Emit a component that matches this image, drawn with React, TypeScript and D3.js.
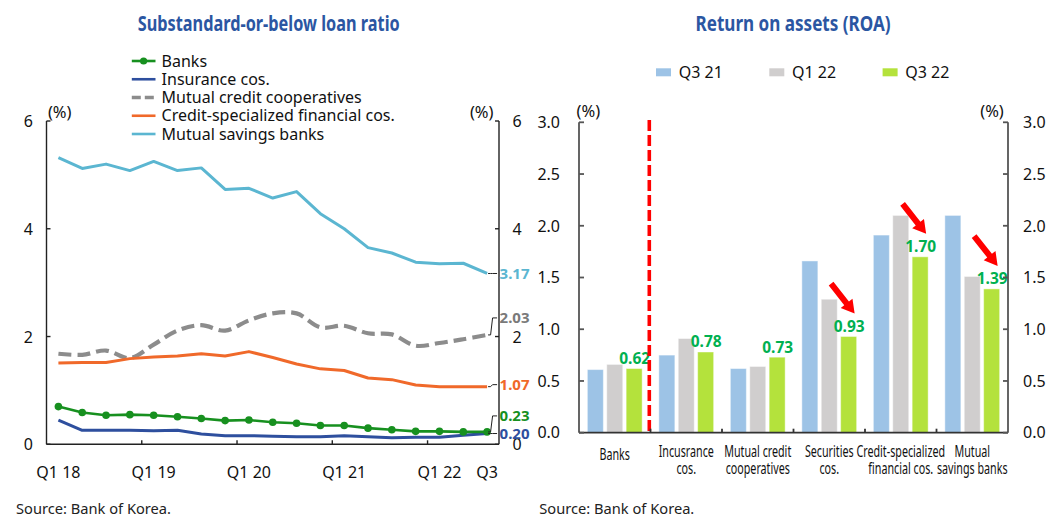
import React from "react";
import * as d3 from "d3";

// ---------- Substandard-or-below loan ratio (quarterly, %) ----------
const quarters = [
  "Q1 18", "Q2 18", "Q3 18", "Q4 18",
  "Q1 19", "Q2 19", "Q3 19", "Q4 19",
  "Q1 20", "Q2 20", "Q3 20", "Q4 20",
  "Q1 21", "Q2 21", "Q3 21", "Q4 21",
  "Q1 22", "Q2 22", "Q3 22",
];
const yearStartQuarters = ["Q1 19", "Q1 20", "Q1 21", "Q1 22"];
const xTickQuarters = ["Q1 18", "Q1 19", "Q1 20", "Q1 21", "Q1 22", "Q3 22"];
const xTickTexts = ["Q1 18", "Q1 19", "Q1 20", "Q1 21", "Q1 22", "Q3"];
const ratioTicks = [0, 2, 4, 6];

const banks = [0.70, 0.59, 0.54, 0.55, 0.54, 0.51, 0.48, 0.44, 0.45, 0.41, 0.39, 0.35, 0.35, 0.30, 0.27, 0.24, 0.24, 0.23, 0.23];
const insuranceCos = [0.45, 0.26, 0.26, 0.26, 0.25, 0.26, 0.19, 0.16, 0.16, 0.15, 0.14, 0.14, 0.16, 0.14, 0.12, 0.13, 0.13, 0.17, 0.20];
const mutualCredit = [1.68, 1.66, 1.74, 1.60, 1.85, 2.11, 2.21, 2.11, 2.30, 2.43, 2.43, 2.17, 2.20, 2.06, 2.04, 1.83, 1.88, 1.95, 2.03];
const creditSpecialized = [1.51, 1.52, 1.52, 1.59, 1.62, 1.64, 1.68, 1.64, 1.72, 1.61, 1.49, 1.40, 1.37, 1.23, 1.20, 1.10, 1.07, 1.07, 1.07];
const mutualSavings = [5.32, 5.12, 5.20, 5.08, 5.25, 5.08, 5.13, 4.73, 4.75, 4.57, 4.69, 4.28, 4.00, 3.65, 3.55, 3.38, 3.35, 3.36, 3.17];

// ---------- Return on assets (%) ----------
const roaCategories = ["Banks", "Insurance", "Mutual credit", "Securities", "Credit-specialized", "Mutual savings"];
const roaCategoryLines = [
  ["Banks"],
  ["Incusrance", "cos."],
  ["Mutual credit", "cooperatives"],
  ["Securities", "cos."],
  ["Credit-specialized", "financial cos."],
  ["Mutual", "savings banks"],
];
const roaPeriods = ["Q3 21", "Q1 22", "Q3 22"];
const roaQ3_21 = [0.61, 0.75, 0.62, 1.66, 1.91, 2.10];
const roaQ1_22 = [0.66, 0.91, 0.64, 1.29, 2.10, 1.51];
const roaQ3_22 = [0.62, 0.78, 0.73, 0.93, 1.70, 1.39];
const roaTicks = [0, 0.5, 1, 1.5, 2, 2.5, 3];
const decliningCategories = ["Securities", "Credit-specialized", "Mutual savings"];

const FONT = "'Noto Sans', sans-serif";
const TITLE_BLUE = "#2b56a2";

// Width of a string in the given CSS font, used to squeeze narrow category labels.
let measureCtx: CanvasRenderingContext2D | null = null;
function textWidth(s: string, font: string) {
  if (!measureCtx && typeof document !== "undefined") {
    measureCtx = document.createElement("canvas").getContext("2d");
  }
  if (!measureCtx) return s.length * 8;
  measureCtx.font = font;
  return measureCtx.measureText(s).width;
}

type Series = {
  name: string;
  values: number[];
  color: string;
  labelColor: string;
  width: number;
  dash?: string;
  dots?: boolean;
  smooth?: boolean;
  labelShift: number;
};

const lineSeries: Series[] = [
  { name: "Banks", values: banks, color: "#17901f", labelColor: "#17901f", width: 2.6, dots: true, labelShift: -16 },
  { name: "Insurance cos.", values: insuranceCos, color: "#2e4f9e", labelColor: "#2e4f9e", width: 3, labelShift: 0 },
  { name: "Mutual credit cooperatives", values: mutualCredit, color: "#8c8c8c", labelColor: "#7a7a7a", width: 4.2, dash: "13 6", smooth: true, labelShift: -17 },
  { name: "Credit-specialized financial cos.", values: creditSpecialized, color: "#f0692a", labelColor: "#f0692a", width: 3, labelShift: -2 },
  { name: "Mutual savings banks", values: mutualSavings, color: "#5bb6d1", labelColor: "#5bb6d1", width: 3, labelShift: 0 },
];
const drawOrder = ["Mutual savings banks", "Mutual credit cooperatives", "Credit-specialized financial cos.", "Insurance cos.", "Banks"];

const barColors = ["#9dc3e6", "#d0cece", "#b4e23c"];
const roaSeries = [roaQ3_21, roaQ1_22, roaQ3_22];

function LoanRatioChart() {
  const x = d3.scaleBand<string>().domain(quarters).range([46.5, 499]);
  const y = d3.scaleLinear().domain([0, 6]).range([444.3, 121]);
  const bw = x.bandwidth();
  const cx = (q: string) => (x(q) as number) + bw / 2;
  const [x0, x1] = x.range();
  const [yb, yt] = y.range();

  return (
    <g>
      <text x={268.7} y={30.5} textAnchor="middle" fontFamily={FONT} fontWeight={700} fontSize={22}
        fill={TITLE_BLUE} textLength={262} lengthAdjust="spacingAndGlyphs">
        Substandard-or-below loan ratio
      </text>

      {/* legend */}
      {lineSeries.map((s, i) => {
        const ly = 61 + i * 18.25;
        return (
          <g key={s.name}>
            <line x1={131.8} x2={155.5} y1={ly} y2={ly} stroke={s.color}
              strokeWidth={s.dash ? 3.5 : 2.6} strokeDasharray={s.dash ? "9 4" : undefined} />
            {s.dots && <circle cx={143.6} cy={ly} r={3.6} fill={s.color} />}
            <text x={161.6} y={ly} dy="0.35em" fontFamily={FONT} fontSize={16} fill="#111">{s.name}</text>
          </g>
        );
      })}

      {/* axes */}
      <g stroke="#222" strokeWidth={1.4} fill="none">
        <line x1={x0} x2={x0} y1={yt} y2={yb} />
        <line x1={x1} x2={x1} y1={yt} y2={yb} />
        <line x1={x0} x2={x1} y1={yb} y2={yb} />
        {ratioTicks.map((t) => (
          <g key={t}>
            <line x1={x0} x2={x0 + 4} y1={y(t)} y2={y(t)} />
            <line x1={x1} x2={x1 - 4} y1={y(t)} y2={y(t)} />
          </g>
        ))}
        {yearStartQuarters.map((q) => (
          <line key={q} x1={x(q) as number} x2={x(q) as number} y1={yb} y2={yb - 4} />
        ))}
      </g>
      {ratioTicks.map((t) => (
        <g key={t} fontFamily={FONT} fontSize={16} fill="#111">
          <text x={28.3} y={y(t)} dy="0.38em" textAnchor="middle">{t}</text>
          <text x={517} y={y(t)} dy="0.38em" textAnchor="middle">{t}</text>
        </g>
      ))}
      <text x={59.7} y={112} dy="0.35em" textAnchor="middle" fontFamily={FONT} fontSize={16.5} fill="#111">(%)</text>
      <text x={481.7} y={112} dy="0.35em" textAnchor="middle" fontFamily={FONT} fontSize={16.5} fill="#111">(%)</text>
      {xTickQuarters.map((q, i) => (
        <text key={q} x={cx(q)} y={478} textAnchor="middle" fontFamily={FONT} fontSize={16} fill="#111">
          {xTickTexts[i]}
        </text>
      ))}

      {/* lines */}
      {drawOrder.map((name) => {
        const s = lineSeries.find((d) => d.name === name)!;
        const gen = d3.line<number>()
          .x((_, i) => cx(quarters[i]))
          .y((v) => y(v))
          .curve(s.smooth ? d3.curveCatmullRom.alpha(0.5) : d3.curveLinear);
        return (
          <g key={name}>
            <path d={gen(s.values) as string} fill="none" stroke={s.color} strokeWidth={s.width}
              strokeDasharray={s.dash} strokeLinejoin="round" />
            {s.dots && s.values.map((v, i) => (
              <circle key={i} cx={cx(quarters[i])} cy={y(v)} r={3.8} fill={s.color} />
            ))}
          </g>
        );
      })}

      {/* end-of-series value labels */}
      {lineSeries.map((s) => {
        const last = s.values[s.values.length - 1];
        const px = cx(quarters[quarters.length - 1]);
        const py = y(last);
        const ly = py + s.labelShift;
        const d = `M${px + 1},${py} L${px + 3.5},${py} L${px + 5.5},${ly} L${px + 10},${ly}`;
        return (
          <g key={s.name}>
            <path d={d} fill="none" stroke="#222" strokeWidth={1} />
            <text x={px + 12.5} y={ly} dy="0.36em" fontFamily={FONT} fontWeight={700} fontSize={15}
              fill={s.labelColor}>
              {last.toFixed(2)}
            </text>
          </g>
        );
      })}

      <text x={16} y={514} fontFamily={FONT} fontSize={15} fill="#222" textLength={155}
        lengthAdjust="spacingAndGlyphs">Source: Bank of Korea.</text>
    </g>
  );
}

function arrowPath(len: number, shaft: number, headW: number, headL: number) {
  return `M0,0 L${-headL},${-headW / 2} L${-headL},${-shaft / 2} L${-len},${-shaft / 2} ` +
    `L${-len},${shaft / 2} L${-headL},${shaft / 2} L${-headL},${headW / 2} Z`;
}

function RoaChart() {
  const x = d3.scaleBand<string>().domain(roaCategories).range([579, 1008]);
  const y = d3.scaleLinear().domain([0, 3]).range([432.7, 122.3]);
  const bw = x.bandwidth();
  const groupW = 54.8;
  const inner = d3.scaleBand<string>().domain(roaPeriods)
    .range([(bw - groupW) / 2, (bw + groupW) / 2]).paddingInner(0.175);
  const [x0, x1] = x.range();
  const [yb, yt] = y.range();
  const divider = (x("Insurance") as number) - 1.2;
  const arrowAngle = (Math.atan2(28.5, 22.5) * 180) / Math.PI;
  const catFont = `16px 'Noto Sans'`;

  return (
    <g>
      <text x={793} y={30.5} textAnchor="middle" fontFamily={FONT} fontWeight={700} fontSize={22}
        fill={TITLE_BLUE} textLength={195} lengthAdjust="spacingAndGlyphs">
        Return on assets (ROA)
      </text>

      {/* legend */}
      {roaPeriods.map((p, i) => {
        const lx = 656 + i * 113.3;
        return (
          <g key={p}>
            <rect x={lx} y={68.3} width={15} height={8} fill={barColors[i]} />
            <text x={lx + 22.7} y={72.5} dy="0.36em" fontFamily={FONT} fontSize={16} fill="#111">{p}</text>
          </g>
        );
      })}

      {/* bars */}
      {roaCategories.map((c, ci) => (
        <g key={c} transform={`translate(${x(c)},0)`}>
          {roaPeriods.map((p, pi) => {
            const v = roaSeries[pi][ci];
            return (
              <rect key={p} x={inner(p)} y={y(v)} width={inner.bandwidth()} height={yb - y(v)}
                fill={barColors[pi]} stroke="#ffffff" strokeOpacity={0.45} strokeWidth={1} />
            );
          })}
        </g>
      ))}

      {/* Q3 22 value labels */}
      {roaCategories.map((c, ci) => {
        const v = roaQ3_22[ci];
        const bx = (x(c) as number) + (inner("Q3 22") as number) + inner.bandwidth() / 2;
        return (
          <text key={c} x={bx + 0.5} y={y(v) - 4.5} textAnchor="middle" fontFamily={FONT} fontWeight={700}
            fontSize={15.5} fill="#00b050">
            {v.toFixed(2)}
          </text>
        );
      })}

      {/* decline arrows */}
      {decliningCategories.map((c) => {
        const ci = roaCategories.indexOf(c);
        const v = roaQ3_22[ci];
        const bx = (x(c) as number) + (inner("Q3 22") as number) + inner.bandwidth() / 2;
        return (
          <path key={c} d={arrowPath(38, 6, 15, 13)} fill="#ff0000"
            transform={`translate(${bx + 6},${y(v) - 23}) rotate(${arrowAngle})`} />
        );
      })}

      {/* divider between banks and non-banks */}
      <line x1={divider} x2={divider} y1={120} y2={yb} stroke="#ff0000" strokeWidth={3.6} strokeDasharray="11 4" />

      {/* axes */}
      <g stroke="#555" strokeWidth={1.8} fill="none">
        <line x1={x0} x2={x0} y1={yt} y2={yb} />
        <line x1={x1} x2={x1} y1={yt} y2={yb} />
        <line x1={x0} x2={x1} y1={yb} y2={yb} stroke="#333" />
        {roaTicks.map((t) => (
          <g key={t}>
            <line x1={x0} x2={x0 + 5} y1={y(t)} y2={y(t)} />
            <line x1={x1} x2={x1 - 5} y1={y(t)} y2={y(t)} />
          </g>
        ))}
        {roaCategories.slice(1).map((c) => (
          <line key={c} x1={x(c) as number} x2={x(c) as number} y1={yb} y2={yb - 4} stroke="#333" />
        ))}
      </g>
      {roaTicks.map((t) => (
        <g key={t} fontFamily={FONT} fontSize={16} fill="#111">
          <text x={560} y={y(t)} dy="0.36em" textAnchor="end">{d3.format(".1f")(t)}</text>
          <text x={1023} y={y(t)} dy="0.36em" textAnchor="start">{d3.format(".1f")(t)}</text>
        </g>
      ))}
      <text x={588.3} y={111} dy="0.35em" textAnchor="middle" fontFamily={FONT} fontSize={16.5} fill="#111">(%)</text>
      <text x={992} y={111} dy="0.35em" textAnchor="middle" fontFamily={FONT} fontSize={16.5} fill="#111">(%)</text>

      {/* category labels (condensed) */}
      {roaCategories.map((c, ci) => {
        const lines = roaCategoryLines[ci];
        const mid = (x(c) as number) + bw / 2;
        return lines.map((ln, li) => {
          const ty = lines.length === 1 ? 454 : 451 + li * 17.5;
          return (
            <text key={c + li} x={mid} y={ty} dy="0.36em" textAnchor="middle" fontFamily={FONT} fontSize={16}
              fill="#111" textLength={textWidth(ln, catFont) * 0.67} lengthAdjust="spacingAndGlyphs">
              {ln}
            </text>
          );
        });
      })}

      <text x={539.3} y={514} fontFamily={FONT} fontSize={15} fill="#222" textLength={155}
        lengthAdjust="spacingAndGlyphs">Source: Bank of Korea.</text>
    </g>
  );
}

export default function App() {
  return (
    <svg width={1051} height={517} viewBox="0 0 1051 517"
      style={{ position: "absolute", left: 0, top: 0, display: "block", background: "#ffffff" }}>
      <rect x={0} y={0} width={1051} height={517} fill="#ffffff" />
      <LoanRatioChart />
      <RoaChart />
    </svg>
  );
}
